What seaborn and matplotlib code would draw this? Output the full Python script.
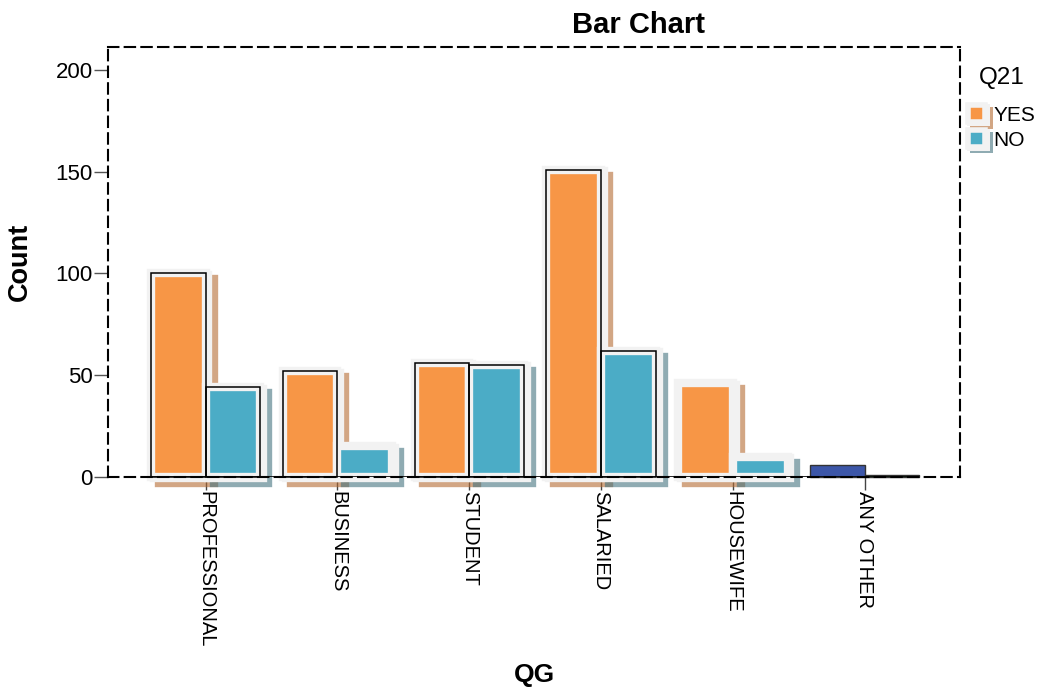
import matplotlib
matplotlib.use("Agg")
import matplotlib.pyplot as plt
import matplotlib.patheffects as pe
from matplotlib.colors import to_rgba
from matplotlib.patches import Patch, Rectangle
import pandas as pd
import seaborn as sns

# Occupation groups (QG) and answer counts for Q21
categories = ["PROFESSIONAL", "BUSINESS", "STUDENT", "SALARIED", "HOUSEWIFE", "ANY OTHER"]
answers = ["YES", "NO"]
yes_counts = [100, 52, 56, 151, 46, 6]
no_counts = [44, 15, 55, 62, 10, 1]
y_ticks = [0, 50, 100, 150, 200]

palette = {"YES": "#F79646", "NO": "#4BACC6"}
shadow_colors = {"YES": "#b46b32", "NO": "#447380"}
halo_color = "#f2f2f2"
# bars that carry a thin black frame
framed = {"YES": [True, True, True, True, False, False],
          "NO": [True, False, True, True, False, False]}
other_colors = {"YES": "#3c56a8", "NO": "#5cb85c"}

df = pd.DataFrame({
    "QG": categories * 2,
    "Q21": ["YES"] * len(categories) + ["NO"] * len(categories),
    "Count": yes_counts + no_counts,
})

sns.set_theme(style="white")
plt.rcParams["font.family"] = ["Liberation Sans", "DejaVu Sans"]
plt.rcParams["text.color"] = "black"
plt.rcParams["axes.labelcolor"] = "black"
plt.rcParams["xtick.color"] = "black"
plt.rcParams["ytick.color"] = "black"


class OffsetRing(pe.AbstractPathEffect):
    """Stroke-only copy of the path, shifted by an offset (a soft drop shadow)."""

    def __init__(self, offset, linewidth, color, alpha):
        super().__init__(offset)
        self._lw = linewidth
        self._color = color
        self._alpha = alpha

    def draw_path(self, renderer, gc, tpath, affine, rgbFace=None):
        gc0 = renderer.new_gc()
        gc0.copy_properties(gc)
        gc0.set_linewidth(self._lw)
        gc0.set_foreground(to_rgba(self._color, self._alpha))
        gc0.set_alpha(self._alpha)
        renderer.draw_path(gc0, tpath, affine + self._offset_transform(renderer), None)
        gc0.restore()


def bar_effects(level, scale=1.0):
    return [OffsetRing((5.8 * scale, -4.3 * scale), 6 * scale, shadow_colors[level], 0.6),
            pe.Stroke(offset=(2 * scale, -1 * scale), linewidth=6 * scale,
                      foreground=halo_color),
            pe.Normal()]


fig = plt.figure(figsize=(10.37, 6.95), dpi=100)
ax = fig.add_axes([0.1041, 0.3137, 0.8216, 0.6187])

sns.barplot(data=df, x="QG", y="Count", hue="Q21", order=categories,
            hue_order=answers, palette=palette, width=0.83, legend=False,
            edgecolor=halo_color, linewidth=6, saturation=1, ax=ax)

for level, container in zip(answers, ax.containers):
    for i, bar in enumerate(container.patches):
        bar.set_clip_on(False)
        if categories[i] == "ANY OTHER":
            bar.set_facecolor(other_colors[level])
            bar.set_edgecolor("#333333")
            bar.set_linewidth(1)
            continue
        bar.set_path_effects(bar_effects(level))
        if framed[level][i]:
            ax.add_patch(Rectangle(bar.get_xy(), bar.get_width(), bar.get_height(),
                                   fill=False, edgecolor="black", linewidth=1.1,
                                   clip_on=False, zorder=bar.get_zorder() + 0.01))

# solid baseline across the bars
all_bars = [b for c in ax.containers for b in c.patches]
x0 = min(b.get_x() for b in all_bars)
x1 = max(b.get_x() + b.get_width() for b in all_bars)
ax.hlines(0, x0, x1, color="black", linewidth=1.2, zorder=3)

ax.set_xlim(-0.741, 5.723)
ax.set_ylim(0, 211.3)
ax.set_yticks(y_ticks)

for side in ["left", "right", "top", "bottom"]:
    ax.spines[side].set_visible(True)
    ax.spines[side].set_color("black")
    ax.spines[side].set_linewidth(1.5)
    ax.spines[side].set_linestyle((0, (5, 3)))
    ax.spines[side].set_zorder(3.5)

ax.tick_params(axis="y", which="major", left=True, length=10, width=1,
               color="#555555", pad=1, labelsize=16, labelcolor="black")
ax.tick_params(axis="x", which="major", bottom=True, length=9, width=1,
               color="#444444", pad=1, labelsize=14.5, labelcolor="black")
plt.setp(ax.get_xticklabels(), rotation=-90, ha="center", va="top")

ax.set_xlabel("QG", fontsize=19, fontweight="bold", labelpad=11)
ax.set_ylabel("Count", fontsize=19.5, fontweight="bold", labelpad=16)
ax.set_title("Bar Chart", fontsize=21, fontweight="bold", x=0.623, pad=10)

handles = []
for level in answers:
    h = Patch(facecolor=palette[level], edgecolor=halo_color, linewidth=4)
    h.set_path_effects(bar_effects(level, scale=0.6))
    handles.append(h)
leg = ax.legend(handles, answers, title="Q21", loc="upper left",
                bbox_to_anchor=(0.933, 0.904), bbox_transform=fig.transFigure,
                frameon=False, fontsize=15, title_fontsize=17.5,
                handlelength=0.85, handleheight=0.85, handletextpad=0.4,
                labelspacing=0.25, borderaxespad=0, borderpad=0)
leg._legend_box.sep = 12

fig.savefig("out.png", dpi=100)
